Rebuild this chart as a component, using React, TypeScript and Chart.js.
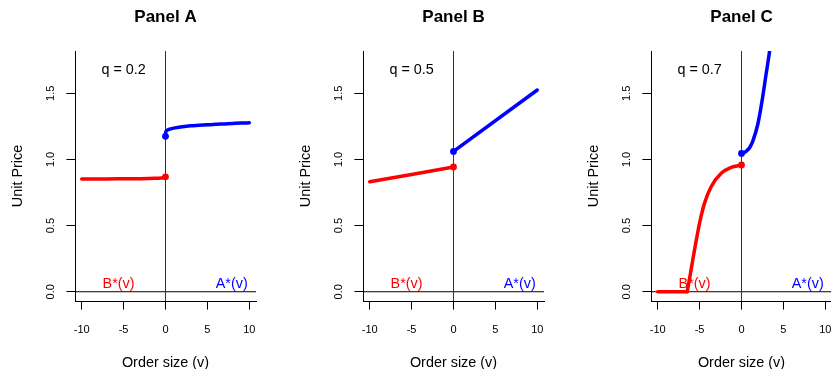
import React, { useEffect, useRef } from 'react';
import { Chart, registerables } from 'chart.js';

Chart.register(...registerables);

const FONT = '"Liberation Sans", Arial, Helvetica, sans-serif';

// ---- labels / ticks ----
const panelTitles = ['Panel A', 'Panel B', 'Panel C'];
const qLabels = ['q = 0.2', 'q = 0.5', 'q = 0.7'];
const xTickValues = [-10, -5, 0, 5, 10];
const yTickValues = [0, 0.5, 1.0, 1.5];
const xAxisTitle = 'Order size (v)';
const yAxisTitle = 'Unit Price';
const bidLabel = 'B*(v)';
const askLabel = 'A*(v)';

// ---- Panel A (q = 0.2) ----
const bidVolA = [-10, -7, -5, -3, -2, -1, -0.5, -0.1, -0.02, 0];
const bidPriceA = [0.852, 0.853, 0.854, 0.855, 0.856, 0.858, 0.859, 0.862, 0.864, 0.869];
const askVolA = [0, 0.02, 0.1, 0.25, 0.5, 1, 2, 3, 4, 5, 6, 7, 8, 9, 10];
const askPriceA = [1.175, 1.205, 1.216, 1.223, 1.229, 1.237, 1.247, 1.254, 1.258, 1.262, 1.266, 1.269, 1.272, 1.275, 1.277];

// ---- Panel B (q = 0.5) ----
const bidVolB = [-10, 0];
const bidPriceB = [0.831, 0.943];
const askVolB = [0, 10];
const askPriceB = [1.061, 1.525];

// ---- Panel C (q = 0.7) ----
const bidVolC = [-10, -6.48, -6.09, -5.61, -5.01, -4.42, -3.62, -2.42, -1.23, 0];
const bidPriceC = [0, 0, 0.139, 0.315, 0.517, 0.668, 0.794, 0.895, 0.94, 0.958];
const askVolC = [0, 0.25, 0.6, 1.0, 1.36, 1.96, 2.47, 2.95, 3.34, 3.6];
const askPriceC = [1.046, 1.05, 1.064, 1.092, 1.14, 1.27, 1.449, 1.651, 1.814, 1.95];

const panels = [
  { title: panelTitles[0], q: qLabels[0], bv: bidVolA, bp: bidPriceA, av: askVolA, ap: askPriceA },
  { title: panelTitles[1], q: qLabels[1], bv: bidVolB, bp: bidPriceB, av: askVolB, ap: askPriceB },
  { title: panelTitles[2], q: qLabels[2], bv: bidVolC, bp: bidPriceC, av: askVolC, ap: askPriceC },
];

const RED = '#FF0000';
const BLUE = '#0000FF';

const annotatePlugin = {
  id: 'annot',
  afterDatasetsDraw(chart: any, _args: any, opts: any) {
    const { ctx, scales } = chart;
    const x = scales.x;
    const y = scales.y;
    ctx.save();
    ctx.font = `14.4px ${FONT}`;
    ctx.textBaseline = 'middle';
    ctx.textAlign = 'center';
    for (const t of opts.items || []) {
      ctx.fillStyle = t.color;
      ctx.fillText(t.text, x.getPixelForValue(t.x), y.getPixelForValue(t.y));
    }
    ctx.restore();
  },
};

function toPts(xs: number[], ys: number[]) {
  return xs.map((v, i) => ({ x: v, y: ys[i] }));
}

function PanelChart({ p, left }: { p: any; left: number }) {
  const ref = useRef<HTMLCanvasElement | null>(null);
  useEffect(() => {
    if (!ref.current) return;
    // split flat (zero) leading part of bid curve from its curved part
    let lastZero = -1;
    p.bp.forEach((v: number, i: number) => { if (v === 0) lastZero = i; });
    const bidPts = toPts(p.bv, p.bp);
    const flatPts = lastZero >= 1 ? bidPts.slice(0, lastZero + 1) : [];
    const curvePts = lastZero >= 1 ? bidPts.slice(lastZero) : bidPts;
    const askPts = toPts(p.av, p.ap);
    const lineBase = {
      showLine: true,
      pointRadius: 0,
      borderCapStyle: 'round',
      borderJoinStyle: 'round',
      clip: 0,
    };
    const chart = new Chart(ref.current, {
      type: 'scatter',
      data: {
        datasets: [
          { data: [{ x: 0, y: -1 }, { x: 0, y: 3 }], showLine: true, pointRadius: 0, borderColor: '#333', borderWidth: 1, order: 3, clip: 0 } as any,
          { data: [{ x: -20, y: 0 }, { x: 20, y: 0 }], showLine: true, pointRadius: 0, borderColor: '#000', borderWidth: 1, order: 3, clip: 0 } as any,
          { ...lineBase, data: flatPts, borderColor: RED, borderWidth: 3.5, order: 2 } as any,
          { ...lineBase, data: curvePts, borderColor: RED, borderWidth: 3.5, cubicInterpolationMode: 'monotone', order: 2 } as any,
          { ...lineBase, data: askPts, borderColor: BLUE, borderWidth: 3.5, cubicInterpolationMode: 'monotone', order: 2 } as any,
          { data: [bidPts[bidPts.length - 1]], showLine: false, pointRadius: 3.4, pointBackgroundColor: RED, pointBorderWidth: 0, borderColor: RED, order: 1 } as any,
          { data: [askPts[0]], showLine: false, pointRadius: 3.4, pointBackgroundColor: BLUE, pointBorderWidth: 0, borderColor: BLUE, order: 1 } as any,
        ],
      },
      options: {
        animation: false,
        responsive: false,
        maintainAspectRatio: false,
        events: [],
        layout: { padding: { left: 0, right: 32, top: 0, bottom: 0 } },
        plugins: {
          legend: { display: false },
          tooltip: { enabled: false },
          title: {
            display: true,
            text: p.title,
            fullSize: false,
            color: '#000',
            font: { family: FONT, size: 17, weight: 'bold', lineHeight: 1.2 },
            padding: { top: 7.3, bottom: 23.3 },
          },
          annot: {
            items: [
              { text: p.q, x: -5, y: 1.675, color: '#000' },
              { text: bidLabel, x: -5.6, y: 0.06, color: RED },
              { text: askLabel, x: 7.9, y: 0.06, color: BLUE },
            ],
          },
        } as any,
        scales: {
          x: {
            type: 'linear',
            position: 'bottom',
            min: -10.8,
            max: 10.8,
            afterBuildTicks: (s: any) => { s.ticks = xTickValues.map((v) => ({ value: v })); },
            afterFit: (s: any) => { s.height = 68; },
            ticks: {
              color: '#000',
              font: { family: FONT, size: 11 },
              padding: 14,
              maxRotation: 0,
              minRotation: 0,
              autoSkip: false,
              callback: (v: any) => String(v),
            },
            grid: { drawOnChartArea: false, drawTicks: true, tickLength: 8.6, color: '#000', lineWidth: 1 },
            border: { display: true, color: '#000', width: 1 },
            title: {
              display: true,
              text: xAxisTitle,
              color: '#000',
              font: { family: FONT, size: 14.4, lineHeight: 1 },
              padding: { top: 0, bottom: -1.7 },
            },
          },
          y: {
            type: 'linear',
            position: 'left',
            min: -0.07,
            max: 1.82,
            afterBuildTicks: (s: any) => { s.ticks = yTickValues.map((v) => ({ value: v })); },
            afterFit: (s: any) => { s.width = 75; },
            ticks: {
              color: '#000',
              font: { family: FONT, size: 11 },
              padding: 7.8,
              minRotation: 90,
              maxRotation: 90,
              crossAlign: 'center',
              autoSkip: false,
              callback: (v: any) => Number(v).toFixed(1),
            },
            grid: { drawOnChartArea: false, drawTicks: true, tickLength: 8.6, color: '#000', lineWidth: 1 },
            border: { display: true, color: '#000', width: 1 },
            title: {
              display: true,
              text: yAxisTitle,
              color: '#000',
              font: { family: FONT, size: 14.4, lineHeight: 1 },
              padding: { top: 10.8, bottom: 0 },
            },
          },
        } as any,
      },
      plugins: [annotatePlugin as any],
    } as any);
    return () => chart.destroy();
  }, [p]);
  return (
    <canvas
      ref={ref}
      width={288}
      height={369}
      style={{ position: 'absolute', left, top: 0, width: 288, height: 369 }}
    />
  );
}

export default function App() {
  return (
    <div
      style={{
        position: 'fixed',
        left: 0,
        top: 0,
        width: 831,
        height: 369,
        overflow: 'hidden',
        background: '#fff',
      }}
    >
      {panels.map((p, i) => (
        <PanelChart key={i} p={p} left={i * 288} />
      ))}
    </div>
  );
}
